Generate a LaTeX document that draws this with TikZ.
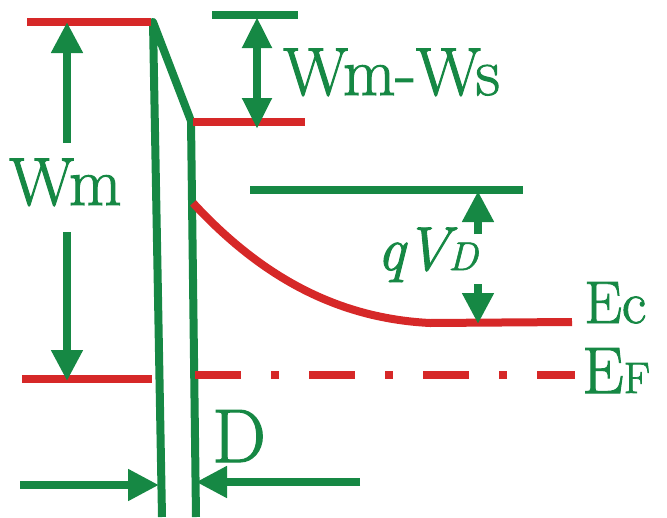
\documentclass[tikz,border=0pt]{standalone}
\usepackage{fontspec}
\newfontfamily\lblfont{Latin Modern Roman}[FakeBold=1.5]
\usetikzlibrary{arrows.meta}
\definecolor{bgreen}{RGB}{22,136,68}
\definecolor{bred}{RGB}{214,40,40}
\begin{document}
\begin{tikzpicture}[x=1pt,y=-1pt,
  gline/.style={draw=bgreen,line width=8pt},
  rline/.style={draw=bred,line width=8pt},
  tipA/.style={-{Triangle[length=31pt,width=30pt]}},
  tipB/.style={{Triangle[length=31pt,width=28pt]}-{Triangle[length=31pt,width=28pt]}},
  lbl/.style={text=bgreen,inner sep=0pt,anchor=base west,font=\lblfont\fontsize{68}{68}\selectfont}]
\useasboundingbox (0,0) rectangle (667,517);
% coordinates
\coordinate (mTopL) at (27,22);
\coordinate (mTopR) at (151,22);
\coordinate (bTop) at (153,22);
\coordinate (bBotL) at (162,517);
\coordinate (bKnee) at (191,121);
\coordinate (bBotR) at (196,517);
\coordinate (sL) at (193,122);
\coordinate (sR) at (305,122);
\coordinate (vacL) at (212,15);
\coordinate (vacR) at (298,15);
\coordinate (ecTopL) at (250,190);
\coordinate (ecTopR) at (523,190);
\coordinate (bendS) at (193,203);
\coordinate (bendE) at (430,323);
\coordinate (ecR) at (572,322);
\coordinate (efLL) at (22,379);
\coordinate (efLR) at (152,379);
\coordinate (efRL) at (195,375);
\coordinate (efRR) at (575,375);
% barrier
\draw[gline,line join=round] (bBotL) -- (bTop) -- (bKnee) -- (bBotR);
% levels
\draw[rline] (mTopL) -- (mTopR);
\draw[rline] (sL) -- (sR);
\draw[gline] (vacL) -- (vacR);
\draw[gline] (ecTopL) -- (ecTopR);
\draw[rline] (bendS) .. controls (255,270) and (330,318) .. (bendE) -- (ecR);
\draw[rline] (efLL) -- (efLR);
\draw[rline,dash pattern=on 46pt off 30pt on 8pt off 30pt] (efRL) -- (efRR);
% labels
\node[lbl] (wm) at (9,205) {Wm};
\node[lbl] (wmws) at (283,95) {Wm-Ws};
\node[lbl,font=\lblfont\fontsize{62}{62}\selectfont] (qvd) at (377,270) {\textit{q}\kern-3pt\textit{V}\kern-9pt{\fontsize{40}{40}\selectfont\textit{D}}};
\node[lbl,font=\lblfont\fontsize{60}{60}\selectfont] (ec) at (584,323) {Ec};
\node[lbl,font=\lblfont\fontsize{66}{66}\selectfont] (ef) at (582,393) {E{\fontsize{44}{44}\selectfont F}};
\node[lbl,font=\lblfont\fontsize{76}{76}\selectfont] (d) at (212,462) {D};
% arrows
\coordinate (wmA1) at (67,143);
\coordinate (wmA2) at (67,232);
\coordinate (wmTip1) at (67,22);
\coordinate (wmTip2) at (67,381);
\draw[gline,tipA] (wmA1) -- (wmTip1);
\draw[gline,tipA] (wmA2) -- (wmTip2);
\coordinate (wsT) at (257,17);
\coordinate (wsB) at (257,129);
\draw[gline,tipB] (wsT) -- (wsB);
\coordinate (qA1) at (478,234);
\coordinate (qA2) at (478,284);
\coordinate (qT) at (478,191);
\coordinate (qB) at (478,324);
\draw[gline,tipA] (qA1) -- (qT);
\draw[gline,tipA] (qA2) -- (qB);
\coordinate (dL) at (20,485);
\coordinate (dLt) at (159,485);
\coordinate (dR) at (360,482);
\coordinate (dRt) at (196,482);
\draw[gline,tipA] (dL) -- (dLt);
\draw[gline,tipA] (dR) -- (dRt);
\end{tikzpicture}
\end{document}
